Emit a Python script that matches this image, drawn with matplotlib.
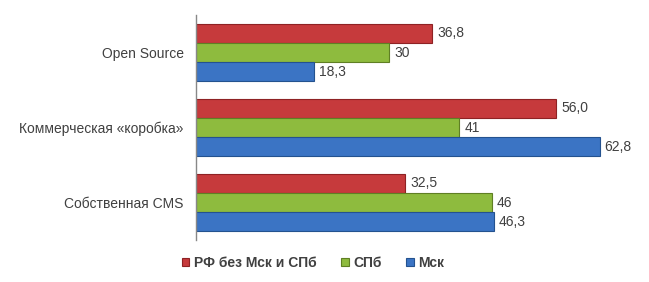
import matplotlib
matplotlib.use("Agg")
import matplotlib.pyplot as plt
import numpy as np

categories = ["Open Source", "Коммерческая «коробка»", "Собственная CMS"]
series_names = ["РФ без Мск и СПб", "СПб", "Мск"]
rf_values = [36.8, 56.0, 32.5]
spb_values = [30, 41, 46]
msk_values = [18.3, 62.8, 46.3]
rf_labels = ["36,8", "56,0", "32,5"]
spb_labels = ["30", "41", "46"]
msk_labels = ["18,3", "62,8", "46,3"]

colors = ["#C63A3C", "#8EBB3E", "#3B74C4"]
edges = ["#8E2224", "#5F7F24", "#24528F"]

plt.rcParams['font.family'] = ['Liberation Sans', 'DejaVu Sans']

fig = plt.figure(figsize=(6.49, 2.82), dpi=100)
ax = fig.add_axes([196/649, 1 - 240/282, 1 - 196/649, 225/282])

y = np.arange(len(categories))
h = 0.255
series = [rf_values, spb_values, msk_values]
labels = [rf_labels, spb_labels, msk_labels]
for i, (vals, labs) in enumerate(zip(series, labels)):
    pos = y - h + i * h
    bars = ax.barh(pos, vals, height=h, color=colors[i], edgecolor=edges[i],
                   linewidth=0.8, label=series_names[i])
    for b, lab in zip(bars, labs):
        ax.text(b.get_width() + 0.8, b.get_y() + b.get_height() / 2, lab,
                va='center', ha='left', fontsize=10, color='#404040')

ax.set_xlim(0, 70.5)
ax.set_ylim(2.5, -0.5)
ax.set_yticks(y)
ax.set_yticklabels(categories, fontsize=10, color='#404040')
ax.tick_params(axis='y', length=0, pad=9)
ax.set_xticks([])
for s in ['top', 'right', 'bottom']:
    ax.spines[s].set_visible(False)
ax.spines['left'].set_color('#888888')
ax.spines['left'].set_linewidth(1.0)

leg = fig.legend(loc='center', bbox_to_anchor=(313/649, 1 - 263/282), ncol=3,
                 frameon=False, handlelength=0.55, handleheight=0.55,
                 handletextpad=0.3, columnspacing=1.8,
                 prop={'weight': 'bold', 'size': 10})
for t in leg.get_texts():
    t.set_color('#404040')

fig.savefig("out.png", dpi=100, facecolor='white')
